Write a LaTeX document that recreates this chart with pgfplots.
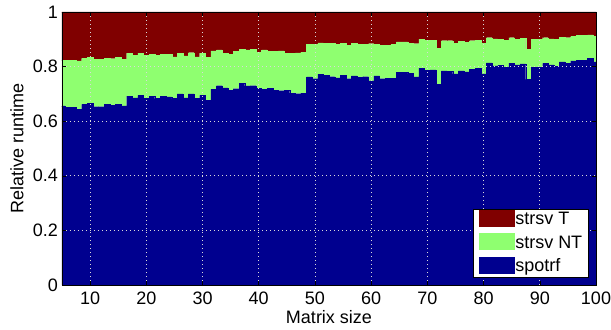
\documentclass[border=0pt]{standalone}
\usepackage{pgfplots}
\usepackage{pgfplotstable}
\pgfplotsset{compat=1.18}
\usepackage{fontspec}
\setmainfont{Liberation Sans}
\definecolor{cT}{RGB}{128,0,0}
\definecolor{cNT}{RGB}{143,255,112}
\definecolor{cS}{RGB}{0,0,143}

\pgfplotstableread{
n spotrf top
5 0.656 0.823
6 0.651 0.823
7 0.651 0.822
8 0.643 0.821
9 0.662 0.830
10 0.666 0.833
11 0.653 0.827
12 0.653 0.827
13 0.662 0.830
14 0.658 0.829
15 0.662 0.833
16 0.656 0.827
17 0.692 0.849
18 0.685 0.842
19 0.695 0.849
20 0.683 0.842
21 0.691 0.846
22 0.683 0.842
23 0.691 0.846
24 0.689 0.845
25 0.684 0.836
26 0.700 0.849
27 0.685 0.839
28 0.700 0.851
29 0.683 0.836
30 0.695 0.849
31 0.676 0.835
32 0.717 0.858
33 0.730 0.861
34 0.722 0.849
35 0.714 0.846
36 0.719 0.855
37 0.739 0.863
38 0.729 0.861
39 0.730 0.863
40 0.720 0.853
41 0.717 0.861
42 0.720 0.857
43 0.714 0.856
44 0.712 0.858
45 0.713 0.849
46 0.703 0.849
47 0.701 0.850
48 0.703 0.853
49 0.762 0.882
50 0.756 0.881
51 0.772 0.887
52 0.768 0.885
53 0.763 0.885
54 0.759 0.881
55 0.768 0.885
56 0.756 0.877
57 0.766 0.885
58 0.761 0.881
59 0.763 0.881
60 0.748 0.884
61 0.766 0.881
62 0.756 0.878
63 0.757 0.879
64 0.758 0.881
65 0.779 0.891
66 0.779 0.891
67 0.775 0.885
68 0.762 0.884
69 0.794 0.901
70 0.786 0.896
71 0.788 0.896
72 0.736 0.867
73 0.784 0.895
74 0.782 0.895
75 0.773 0.885
76 0.784 0.893
77 0.781 0.890
78 0.790 0.895
79 0.794 0.896
80 0.773 0.885
81 0.814 0.906
82 0.803 0.902
83 0.804 0.901
84 0.797 0.897
85 0.813 0.906
86 0.806 0.901
87 0.810 0.903
88 0.753 0.863
89 0.797 0.900
90 0.797 0.899
91 0.812 0.906
92 0.806 0.902
93 0.802 0.899
94 0.817 0.907
95 0.813 0.906
96 0.821 0.910
97 0.824 0.914
98 0.824 0.914
99 0.830 0.916
100 0.817 0.910
}\data

\begin{document}
\fontsize{18bp}{21bp}\selectfont
\begin{tikzpicture}
\path[use as bounding box] (-62bp,-45bp) rectangle (549bp,285bp);
\begin{axis}[
  at={(0,0)}, anchor=south west,
  scale only axis, width=534bp, height=273bp,
  xmin=5, xmax=100, ymin=0, ymax=1,
  ybar stacked, bar width=1,
  xtick={10,20,30,40,50,60,70,80,90,100},
  ytick={0,0.2,0.4,0.6,0.8,1},
  yticklabels={0,0.2,0.4,0.6,0.8,1},
  /pgf/number format/assume math mode=true,
  tick label style={font=\fontsize{18bp}{20bp}\selectfont},
  yticklabel style={inner sep=0pt, anchor=east, xshift=-4bp},
  xticklabel style={inner sep=0pt, anchor=north, yshift=-7bp},
  tick align=inside,
  major tick length=4bp,
  every tick/.style={black, line width=0.5bp},
  axis line style={black, line width=0.6bp},
  grid=major,
  major grid style={white!70!gray, line width=0.7bp, dash pattern=on 1bp off 3bp},
  axis on top,
  xlabel={Matrix size},
  ylabel={Relative runtime},
  label style={font=\fontsize{18bp}{20bp}\selectfont},
  xlabel style={at={(axis description cs:0.5,-0.117)}, anchor=center},
  ylabel style={at={(axis description cs:-0.0843,0.5)}, anchor=center},
  reverse legend,
  legend style={at={(rel axis cs:0.987,0.026)}, anchor=south east,
    draw=black, line width=0.6bp, fill=white,
    font=\fontsize{18bp}{20bp}\selectfont,
    inner xsep=5bp, inner ysep=1bp, row sep=4bp,
    nodes={inner xsep=1.5bp, inner ysep=1bp, text height=13bp, text depth=4bp},
    cells={anchor=west}},
  legend image code/.code={\fill[#1] (0bp,-6bp) rectangle (35bp,10bp);},
]
\addplot[fill=cS, draw=cS, line width=0.2bp] table[x=n, y=spotrf] {\data};
\addplot[fill=cNT, draw=cNT, line width=0.2bp] table[x=n, y expr=\thisrow{top}-\thisrow{spotrf}] {\data};
\addplot[fill=cT, draw=cT, line width=0.2bp] table[x=n, y expr=1-\thisrow{top}] {\data};
\legend{spotrf, strsv NT, strsv T}
\end{axis}
\end{tikzpicture}
\end{document}
